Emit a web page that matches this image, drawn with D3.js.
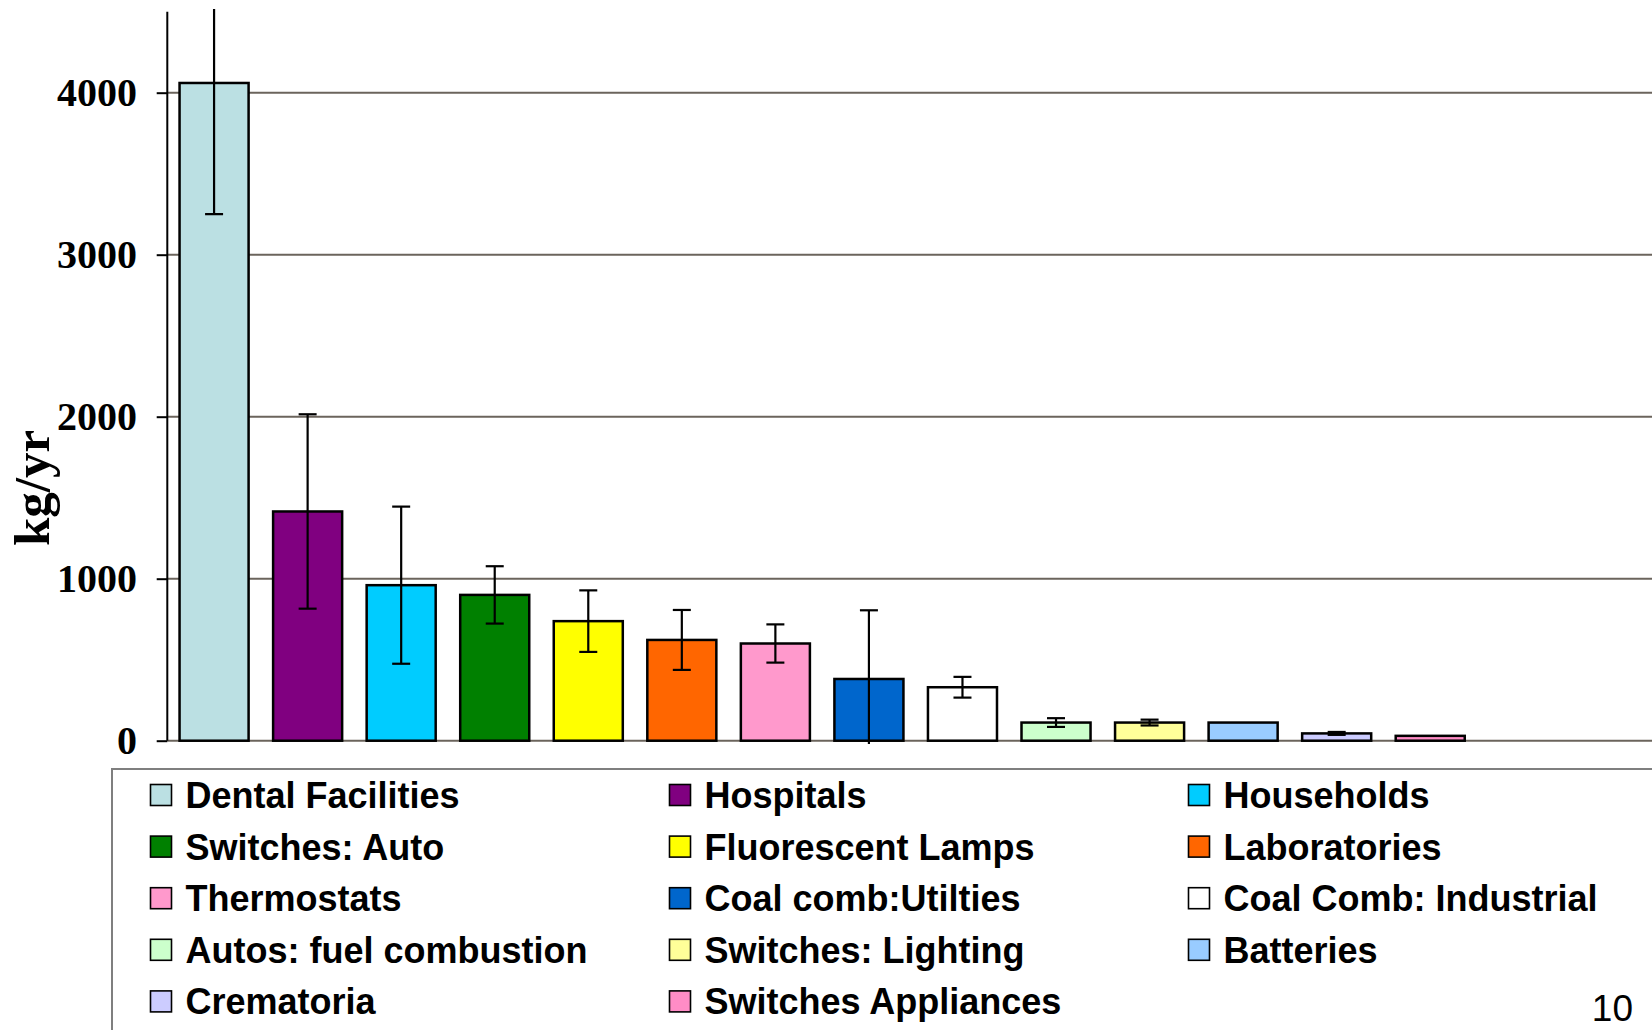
<!DOCTYPE html>
<html>
<head>
<meta charset="utf-8">
<script src="https://cdn.jsdelivr.net/npm/d3@7"></script>
<style>
  body { margin: 0; background: #fff; }
  svg { display: block; }
</style>
</head>
<body>
<svg id="chart" width="1652" height="1030"></svg>
<script>
//============Bar chart with error bars=========//
var categories = ['Dental Facilities', 'Hospitals', 'Households', 'Switches: Auto',
  'Fluorescent Lamps', 'Laboratories', 'Thermostats', 'Coal comb:Utilties',
  'Coal Comb: Industrial', 'Autos: fuel combustion', 'Switches: Lighting',
  'Batteries', 'Crematoria', 'Switches Appliances'];

var values = [4060, 1415, 960, 900, 738, 622, 600, 381, 330, 112, 112, 112, 45, 30];
var errors = [810, 600, 485, 177, 190, 185, 118, 424, 64, 27, 18, 0, 9, 0];

var colors = ['#BBE0E3', '#800080', '#00CCFF', '#008000', '#FFFF00', '#FF6600',
  '#FF99CC', '#0066CC', '#FFFFFF', '#CCFFCC', '#FFFF99', '#99CCFF', '#CCCCFF', '#FF8CC6'];

var yTicks = [0, 1000, 2000, 3000, 4000];
var yLabel = 'kg/yr';
var pageNumber = '10';

var width = 1652, height = 1030;
var x0 = 167.3, step = 93.55;
var yBottom = 740.7, yTop = 11.7;

var svg = d3.select('#chart');

// scales
var x = d3.scaleBand()
  .domain(categories)
  .range([x0, x0 + step * categories.length])
  .paddingInner(0.262)
  .paddingOuter(0.131);

var y = d3.scaleLinear()
  .domain([0, 4500])
  .range([yBottom, yTop]);

var data = categories.map(function(c, i) {
  return {name: c, value: values[i], err: errors[i], color: colors[i]};
});

// clip for error bars that run past the plot
svg.append('defs').append('clipPath').attr('id', 'plotClip')
  .append('rect')
  .attr('x', x0).attr('y', 9)
  .attr('width', width - x0).attr('height', 744 - 9);

// gridlines
svg.append('g')
  .selectAll('line')
  .data(yTicks)
  .enter().append('line')
  .attr('x1', x0).attr('x2', width)
  .attr('y1', function(d) { return y(d); })
  .attr('y2', function(d) { return y(d); })
  .style('stroke', '#6b645c')
  .style('stroke-width', 2);

// bars
svg.append('g')
  .selectAll('rect')
  .data(data)
  .enter().append('rect')
  .attr('x', function(d) { return x(d.name); })
  .attr('y', function(d) { return y(d.value); })
  .attr('width', x.bandwidth())
  .attr('height', function(d) { return y(0) - y(d.value); })
  .style('fill', function(d) { return d.color; })
  .style('stroke', '#000')
  .style('stroke-width', 2.5);

// error bars
var eb = svg.append('g')
  .attr('clip-path', 'url(#plotClip)')
  .selectAll('g')
  .data(data.filter(function(d) { return d.err > 0; }))
  .enter().append('g')
  .attr('transform', function(d) { return 'translate(' + (x(d.name) + x.bandwidth() / 2) + ',0)'; })
  .style('stroke', '#000')
  .style('stroke-width', 2.2);

eb.append('line')
  .attr('y1', function(d) { return y(d.value + d.err); })
  .attr('y2', function(d) { return y(d.value - d.err); });

eb.append('line')
  .attr('x1', -9).attr('x2', 9)
  .attr('y1', function(d) { return y(d.value + d.err); })
  .attr('y2', function(d) { return y(d.value + d.err); });

eb.append('line')
  .attr('x1', -9).attr('x2', 9)
  .attr('y1', function(d) { return y(d.value - d.err); })
  .attr('y2', function(d) { return y(d.value - d.err); });

// y axis
var yAxis = svg.append('g')
  .attr('transform', 'translate(' + x0 + ',0)')
  .call(d3.axisLeft(y).tickValues(yTicks).tickSize(10.6).tickPadding(19.7).tickFormat(d3.format('d')));

yAxis.select('.domain').remove();
yAxis.append('line')
  .attr('y1', yTop).attr('y2', yBottom)
  .style('stroke', '#000').style('stroke-width', 2);
yAxis.selectAll('.tick line').style('stroke', '#000').style('stroke-width', 2);
yAxis.selectAll('.tick text')
  .style('font-family', '"Liberation Serif", "Times New Roman", serif')
  .style('font-weight', 'bold')
  .style('font-size', '40px')
  .style('fill', '#000');

svg.append('text')
  .attr('transform', 'translate(49,488) rotate(-90)')
  .attr('text-anchor', 'middle')
  .style('font-family', '"Liberation Serif", "Times New Roman", serif')
  .style('font-weight', 'bold')
  .style('font-size', '51px')
  .text(yLabel);

// legend
svg.append('rect')
  .attr('x', 112).attr('y', 769)
  .attr('width', 1700).attr('height', 400)
  .style('fill', 'none')
  .style('stroke', '#7f7f7f')
  .style('stroke-width', 2);

var legend = svg.append('g')
  .selectAll('g')
  .data(data)
  .enter().append('g')
  .attr('transform', function(d, i) {
    return 'translate(' + (150.5 + (i % 3) * 519) + ',' + (795 + Math.floor(i / 3) * 51.6) + ')';
  });

legend.append('rect')
  .attr('x', 0).attr('y', -10.5)
  .attr('width', 21).attr('height', 21)
  .style('fill', function(d) { return d.color; })
  .style('stroke', '#000')
  .style('stroke-width', 1.6);

legend.append('text')
  .attr('x', 35).attr('y', 13)
  .style('font-family', '"Liberation Sans", Arial, sans-serif')
  .style('font-weight', 'bold')
  .style('font-size', '36px')
  .text(function(d) { return d.name; });

svg.append('text')
  .attr('x', 1633).attr('y', 1021)
  .attr('text-anchor', 'end')
  .style('font-family', '"Liberation Sans", Arial, sans-serif')
  .style('font-size', '37px')
  .text(pageNumber);
</script>
</body>
</html>
